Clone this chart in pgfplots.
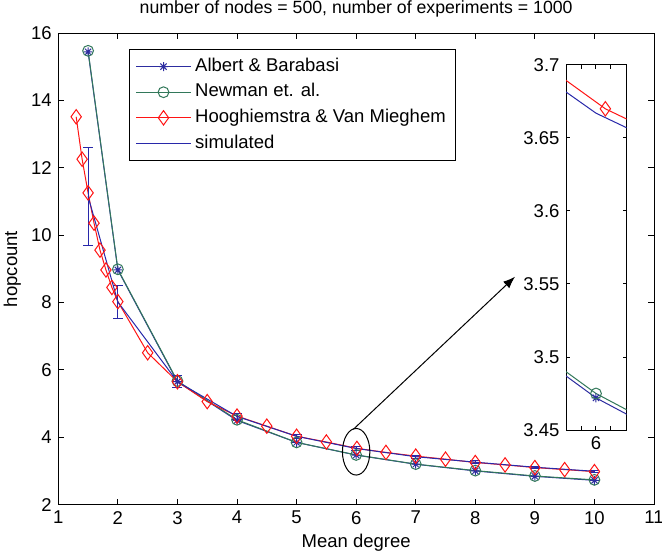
\documentclass[border=0pt]{standalone}
\usepackage{pgfplots}
\pgfplotsset{compat=1.18}
\usepackage{fontspec}
\setmainfont{Liberation Sans}
\usetikzlibrary{arrows.meta}
\pgfdeclareplotmark{mstar}{%
  \pgfpathmoveto{\pgfqpoint{0pt}{\pgfplotmarksize}}\pgfpathlineto{\pgfqpoint{0pt}{-\pgfplotmarksize}}%
  \pgfpathmoveto{\pgfqpoint{\pgfplotmarksize}{0pt}}\pgfpathlineto{\pgfqpoint{-\pgfplotmarksize}{0pt}}%
  \pgfpathmoveto{\pgfqpoint{.7071\pgfplotmarksize}{.7071\pgfplotmarksize}}\pgfpathlineto{\pgfqpoint{-.7071\pgfplotmarksize}{-.7071\pgfplotmarksize}}%
  \pgfpathmoveto{\pgfqpoint{-.7071\pgfplotmarksize}{.7071\pgfplotmarksize}}\pgfpathlineto{\pgfqpoint{.7071\pgfplotmarksize}{-.7071\pgfplotmarksize}}%
  \pgfusepathqstroke}
\pgfdeclareplotmark{mdiam}{%
  \pgfpathmoveto{\pgfqpoint{0pt}{\pgfplotmarksize}}%
  \pgfpathlineto{\pgfqpoint{.72\pgfplotmarksize}{0pt}}%
  \pgfpathlineto{\pgfqpoint{0pt}{-\pgfplotmarksize}}%
  \pgfpathlineto{\pgfqpoint{-.72\pgfplotmarksize}{0pt}}%
  \pgfpathclose\pgfusepathqstroke}
\definecolor{cab}{RGB}{45,45,160}
\definecolor{cnw}{RGB}{50,120,90}
\definecolor{chg}{RGB}{255,20,20}
\definecolor{csim}{RGB}{40,40,170}
\begin{document}
\fontsize{9.25}{11}\selectfont
\begin{tikzpicture}
\useasboundingbox (-29.15pt,-23.7pt) rectangle (301.85pt,252.3pt);
\begin{axis}[
  at={(0pt,0pt)}, anchor=south west,
  scale only axis, width=297.85pt, height=235.65pt,
  xmin=1, xmax=11, ymin=2, ymax=16,
  xtick={1,2,...,11}, ytick={2,4,...,16},
  tick align=inside, major tick length=3pt,
  axis line style={line width=0.5pt}, every tick/.style={black, line width=0.5pt},
  /pgf/number format/assume math mode=true,
  title={number of nodes = 500, number of experiments = 1000},
  title style={at={(axis description cs:0.5,1.0176)}, anchor=base, inner sep=0pt, font=\fontsize{8.85}{10}\selectfont},
  xlabel={Mean degree},
  xlabel style={at={(axis description cs:0.5,-0.09)}, anchor=base, inner sep=0pt},
  ylabel={hopcount},
  ylabel style={at={(axis description cs:-0.0692,0.5)}, rotate=0, anchor=base, inner sep=0pt},
  legend style={at={(0.1192,0.966)}, anchor=north west, draw=black, line width=0.5pt, fill=white,
    inner xsep=3pt, inner ysep=2pt, row sep=0pt,
    nodes={text height=6.7pt, text depth=2.1pt, inner sep=2pt}},
  legend cell align=left,
  legend image code/.code={\draw[mark repeat=2,mark phase=2] plot coordinates {(0pt,0pt)(13.6pt,0pt)(27.2pt,0pt)};},
]
\addplot[color=cab, line width=0.5pt, mark=mstar, mark size=2.2pt] coordinates {
(1.5,15.45) (2,8.97) (3,5.65) (4,4.50) (5,3.847) (6,3.472) (7,3.199) (8,3.00) (9,2.84) (10,2.72)};
\addlegendentry{Albert \& Barabasi}
\addplot[color=cnw, line width=0.5pt, mark=o, mark size=2.7pt] coordinates {
(1.5,15.48) (2,8.99) (3,5.67) (4,4.52) (5,3.848) (6,3.475) (7,3.203) (8,3.01) (9,2.85) (10,2.735)};
\addlegendentry{Newman et. al.}
\addplot[color=chg, line width=0.5pt, mark=mdiam, mark size=3.6pt] coordinates {
(1.3,13.52) (1.4,12.26) (1.5,11.26) (1.6,10.36) (1.7,9.56) (1.8,8.97) (1.9,8.45) (2.0,8.03)
(2.5,6.51) (3,5.65) (3.5,5.06) (4,4.63) (4.5,4.33) (5,4.03) (5.5,3.86) (6.0125,3.670)
(6.5,3.55) (7,3.44) (7.5,3.35) (8,3.25) (8.5,3.18) (9,3.10) (9.5,3.04) (10,2.98)};
\addlegendentry{Hooghiemstra \& Van Mieghem}
\addplot[color=csim, line width=0.5pt, mark=none,
  error bars/.cd, y dir=both, y explicit,
  error bar style={line width=0.5pt},
  error mark options={rotate=90, mark size=2.5pt, line width=0.5pt}] coordinates {
(1.5,11.155) +- (0,1.45)
(2,8.02) +- (0,0.49)
(3,5.65) +- (0,0.18)
(4,4.62) +- (0,0.10)
(5,4.03) +- (0,0.06)
(6,3.667) +- (0,0.05)
(7,3.423) +- (0,0.04)
(8,3.26) +- (0,0.04)
(9,3.11) +- (0,0.035)
(10,2.99) +- (0,0.03)};
\addlegendentry{simulated}
\draw[black, line width=0.5pt] (axis cs:6,3.57) ellipse [x radius=6.85pt, y radius=11.65pt];
\draw[black, line width=0.5pt, -{Latex[length=6pt,width=4.5pt]}] (axis cs:5.952,4.235) -- (axis cs:8.667,8.77);
\end{axis}
\begin{axis}[
  at={(253.85pt,37.3pt)}, anchor=south west,
  scale only axis, width=30.35pt, height=182.5pt,
  xmin=5.96, xmax=6.041, ymin=3.45, ymax=3.7,
  xtick={5.98,6,6.02}, xticklabels={,6,},
  ytick={3.45,3.5,3.55,3.6,3.65,3.7},
  tick align=inside, major tick length=2pt,
  axis line style={line width=0.5pt}, every tick/.style={black, line width=0.5pt},
  axis background/.style={fill=white},
  /pgf/number format/assume math mode=true,
  scaled ticks=false,
]
\addplot[color=cab, line width=0.5pt, mark=mstar, mark size=2.2pt] coordinates {
(5,3.847) (6,3.472) (7,3.199)};
\addplot[color=cnw, line width=0.5pt, mark=o, mark size=2.7pt] coordinates {
(5,3.848) (6,3.475) (7,3.203)};
\addplot[color=chg, line width=0.5pt, mark=mdiam, mark size=3.6pt] coordinates {
(5.5,3.86) (6.0125,3.670) (6.5,3.55)};
\addplot[color=csim, line width=0.5pt, mark=none] coordinates {
(5,4.03) (6,3.667) (7,3.423)};
\end{axis}
\end{tikzpicture}
\end{document}
